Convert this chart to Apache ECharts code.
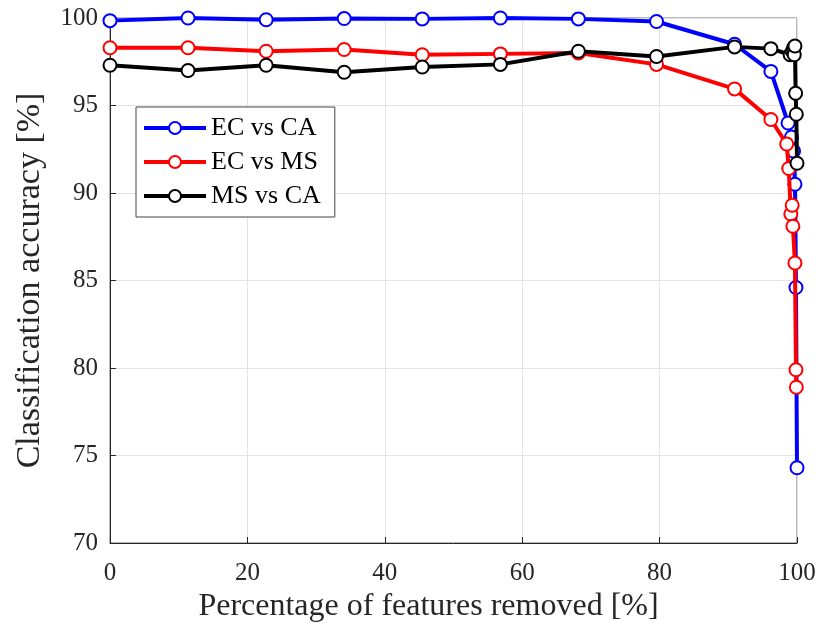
<!DOCTYPE html>
<html><head><meta charset="utf-8">
<script src="https://cdn.jsdelivr.net/npm/echarts@6/dist/echarts.min.js"></script>
<style>html,body{margin:0;padding:0;background:#fff}#c{width:820px;height:635px}</style>
</head><body><div id="c"></div>
<script>
const seriesNames = ["EC vs CA", "EC vs MS", "MS vs CA"];
const seriesColors = ["#0000ff", "#ff0000", "#000000"];
const ecVsCa = [[0,99.85],[11.36,100.0],[22.73,99.9],[34.09,99.97],[45.45,99.95],[56.82,100.0],[68.18,99.95],[79.55,99.8],[90.91,98.5],[96.2,96.95],[98.7,94.0],[99.2,93.2],[99.5,92.4],[99.7,90.5],[99.85,84.6],[100,74.3]];
const ecVsMs = [[0,98.3],[11.36,98.3],[22.73,98.1],[34.09,98.2],[45.45,97.9],[56.82,97.95],[68.18,98.0],[79.55,97.35],[90.91,95.95],[96.2,94.2],[98.5,92.8],[98.8,91.4],[99.1,88.8],[99.3,89.3],[99.4,88.1],[99.7,86.0],[99.85,79.9],[99.9,78.9]];
const msVsCa = [[0,97.3],[11.36,97.0],[22.73,97.3],[34.09,96.9],[45.45,97.2],[56.82,97.35],[68.18,98.1],[79.55,97.8],[90.91,98.35],[96.2,98.25],[99.0,97.9],[99.3,98.1],[99.5,98.3],[99.6,97.9],[99.7,98.4],[99.8,95.7],[99.9,94.5],[100,91.7]];
const allData = [ecVsCa, ecVsMs, msVsCa];
const xTicks = [0,20,40,60,80,100];
const yTicks = [70,75,80,85,90,95,100];
const xLabel = "Percentage of features removed [%]";
const yLabel = "Classification accuracy [%]";

const font = "'Liberation Serif','DejaVu Serif',serif";
const chart = echarts.init(document.getElementById('c'));
const axisCommon = {
  axisLine:{show:true,onZero:false,lineStyle:{color:'#262626',width:1}},
  axisTick:{show:true,inside:true,length:6,lineStyle:{color:'#262626'}},
  splitLine:{show:true,lineStyle:{color:'#e3e3e3',width:1}},
  axisLabel:{color:'#262626',fontFamily:font,fontSize:25},
};
chart.setOption({
  animation:false,
  backgroundColor:'#fff',
  grid:{left:110,right:23,top:18,bottom:92,show:true,borderColor:'#6e6e6e',borderWidth:1,backgroundColor:'transparent'},
  legend:{
    orient:'vertical', left:136, top:107,
    data: seriesNames,
    backgroundColor:'#fff', borderColor:'#444', borderWidth:1,
    padding:[8,14,8,6], itemGap:8, itemWidth:62, itemHeight:15,
    lineStyle:{width:4},
    itemStyle:{borderWidth:3},
    textStyle:{fontFamily:font,fontSize:26,color:'#000'}
  },
  xAxis:Object.assign({type:'value',min:0,max:100,interval:20,
    name:xLabel,nameLocation:'middle',nameGap:47,
    nameTextStyle:{fontFamily:font,fontSize:32,color:'#262626',padding:[0,50,0,0]}},axisCommon,
    {axisLabel:Object.assign({},axisCommon.axisLabel,{margin:18,formatter:v=>xTicks.includes(v)?String(v):''})}),
  yAxis:Object.assign({type:'value',min:70,max:100,interval:5,
    name:yLabel,nameLocation:'middle',nameGap:63,
    nameTextStyle:{fontFamily:font,fontSize:34,color:'#262626'}},axisCommon,
    {axisLabel:Object.assign({},axisCommon.axisLabel,{margin:12,formatter:v=>yTicks.includes(v)?String(v):''})}),
  series: allData.map((d,i)=>({
    name:seriesNames[i], type:'line', data:d, clip:false,
    symbol:'emptyCircle', symbolSize:13,
    color:seriesColors[i],
    lineStyle:{color:seriesColors[i],width:4},
    itemStyle:{color:seriesColors[i],borderColor:seriesColors[i],borderWidth:3},
    z:2+i
  }))
});
</script></body></html>
